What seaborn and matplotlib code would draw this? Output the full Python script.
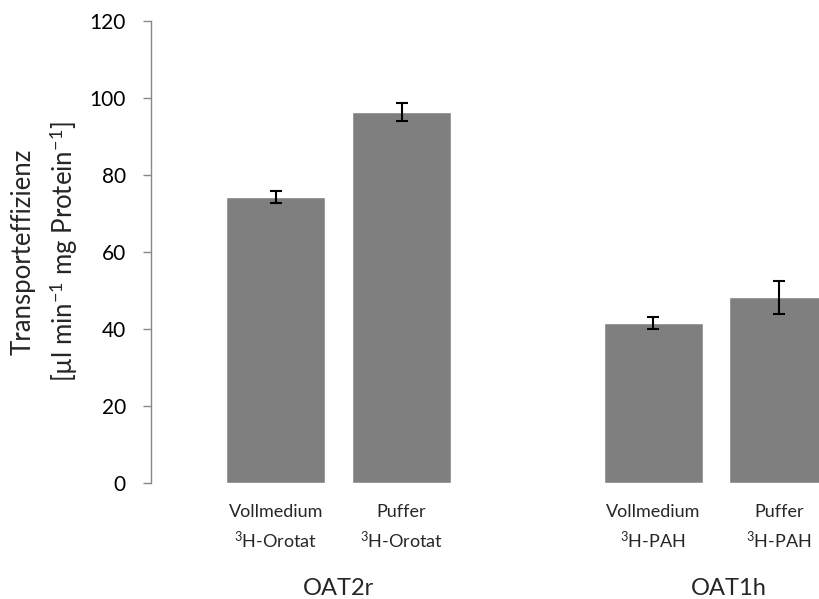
import matplotlib
matplotlib.use("Agg")
import matplotlib.pyplot as plt
import seaborn as sns
import pandas as pd
from matplotlib.transforms import blended_transform_factory

# Measured transport efficiency per condition (mean and SEM)
conditions = [
    "Vollmedium\n$^{3}$H-Orotat",
    "Puffer\n$^{3}$H-Orotat",
    "Vollmedium\n$^{3}$H-PAH",
    "Puffer\n$^{3}$H-PAH",
]
transporters = ["OAT2r", "OAT2r", "OAT1h", "OAT1h"]
efficiency = [74.2, 96.3, 41.5, 48.2]
sem = [1.6, 2.3, 1.5, 4.3]
group_labels = ["OAT2r", "OAT1h"]
y_ticks = [0, 20, 40, 60, 80, 100, 120]

sns.set_style("white")
plt.rcParams["font.family"] = ["Lato", "DejaVu Sans"]
plt.rcParams["mathtext.fontset"] = "custom"
plt.rcParams["mathtext.rm"] = "Lato"
plt.rcParams["mathtext.it"] = "Lato:italic"
plt.rcParams["mathtext.bf"] = "Lato:bold"

df = pd.DataFrame({
    "Bedingung": conditions,
    "Transporter": transporters,
    "Effizienz": efficiency,
    "SEM": sem,
})

# an empty slot separates the two transporter groups
order = conditions[:2] + [" "] + conditions[2:]

fig = plt.figure(figsize=(8.2, 5.99), dpi=100)
ax = fig.add_axes([0.1841, 0.1937, 0.8159, 0.7713])

sns.barplot(data=df, x="Bedingung", y="Effizienz", order=order,
            color="#7f7f7f", saturation=1, width=0.787, errorbar=None,
            ax=ax)

xpos = [order.index(c) for c in df["Bedingung"]]
ax.errorbar(xpos, df["Effizienz"], yerr=df["SEM"], fmt="none",
            ecolor="black", elinewidth=1.5, capsize=4.5, capthick=1.5,
            zorder=5)

ax.set_xlim(-0.993, 4.327)
ax.set_ylim(0, 120)
ax.set_yticks(y_ticks)
ax.set_yticklabels([str(t) for t in y_ticks], fontsize=15)

for s in ("top", "right", "bottom"):
    ax.spines[s].set_visible(False)
ax.spines["left"].set_color("#888888")
ax.spines["left"].set_linewidth(1.0)

ax.tick_params(axis="y", length=6, width=1.0, color="#888888", pad=12,
               labelcolor="black", left=True)
ax.tick_params(axis="x", length=0, pad=15, labelsize=13)
for lbl in ax.get_xticklabels():
    lbl.set_linespacing(1.55)

ax.set_xlabel("")
ax.set_ylabel("Transporteffizienz\n[µl min$^{-1}$ mg Protein$^{-1}$]",
              fontsize=18.5, labelpad=7, linespacing=1.5)

# transporter names centred beneath each pair of bars
trans = blended_transform_factory(ax.transData, fig.transFigure)
for name, shift in zip(group_labels, [0.0, 0.1]):
    members = [order.index(c) for c, t in zip(conditions, transporters) if t == name]
    xc = sum(members) / len(members) + shift
    ax.text(xc, 0.007, name, transform=trans, ha="center", va="baseline",
            fontsize=17)

fig.savefig("out.png", dpi=100)
